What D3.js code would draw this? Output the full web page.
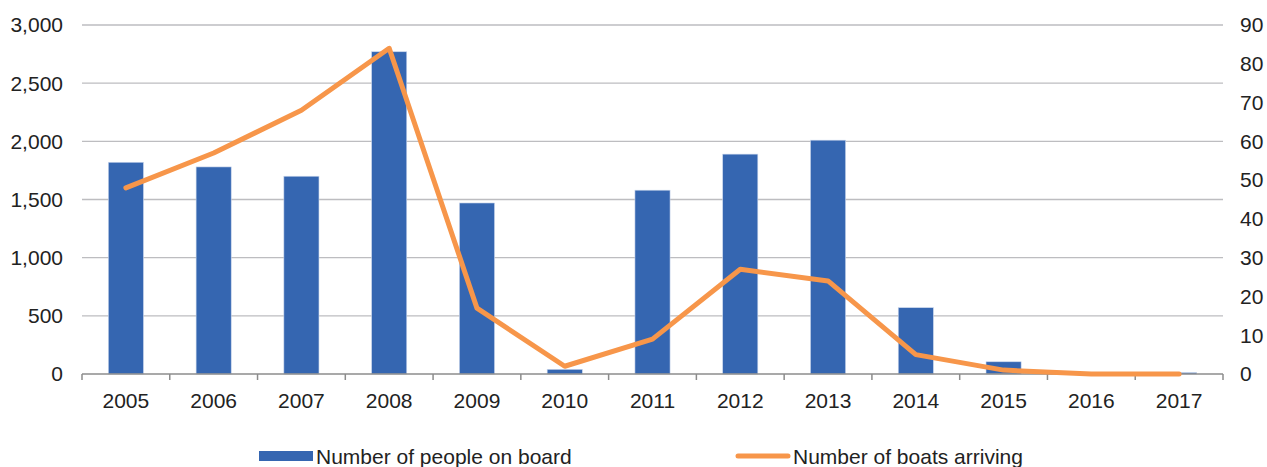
<!DOCTYPE html>
<html>
<head>
<meta charset="utf-8">
<script src="https://cdn.jsdelivr.net/npm/d3@7"></script>
<style>
	body {margin: 0; background: #fff;}
	svg text {font-family: "Liberation Sans", Arial, sans-serif; fill: #222;}
</style>
</head>
<body>
<svg id="chart"></svg>
<script>
/*
	Data
*/
const years = ['2005','2006','2007','2008','2009','2010','2011','2012','2013','2014','2015','2016','2017']
const peopleOnBoard = [1820, 1780, 1700, 2770, 1470, 40, 1580, 1890, 2010, 570, 105, 0, 12]
const boatsArriving = [48, 57, 68, 84, 17, 2, 9, 27, 24, 5, 1, 0, 0]
const leftTicks = [0, 500, 1000, 1500, 2000, 2500, 3000]
const rightTicks = [0, 10, 20, 30, 40, 50, 60, 70, 80, 90]
const legendLabels = ['Number of people on board', 'Number of boats arriving']

/*
	Drawing constants
*/
const [width, height] = [1267, 467]
const plot = {left: 82, right: 1223, top: 25, bottom: 374}
const fontSize = 21
const barColor = '#3566b1'
const lineColor = '#f7964a'

const svg = d3.select('#chart').attr('width', width).attr('height', height)

const x = d3.scaleBand().domain(years).range([plot.left, plot.right]).paddingInner(0.6).paddingOuter(0.3)
const xEdges = d3.scaleBand().domain(years).range([plot.left, plot.right]) //category boundaries for ticks
const yLeft = d3.scaleLinear().domain([0, 3000]).range([plot.bottom, plot.top])
const yRight = d3.scaleLinear().domain([0, 90]).range([plot.bottom, plot.top])

//gridlines
svg.append('g')
	.selectAll('line')
	.data(leftTicks.filter(d => d > 0))
	.join('line')
	.attr('x1', plot.left).attr('x2', plot.right)
	.attr('y1', d => yLeft(d)).attr('y2', d => yLeft(d))
	.attr('stroke', '#bdbdc0').attr('stroke-width', 1.3)

//left axis labels
svg.append('g')
	.selectAll('text')
	.data(leftTicks)
	.join('text')
	.attr('x', 63).attr('y', d => yLeft(d))
	.attr('dy', '0.35em').attr('text-anchor', 'end')
	.attr('font-size', fontSize)
	.text(d3.format(','))

//right axis labels
svg.append('g')
	.selectAll('text')
	.data(rightTicks)
	.join('text')
	.attr('x', 1240).attr('y', d => yRight(d))
	.attr('dy', '0.35em').attr('text-anchor', 'start')
	.attr('font-size', fontSize)
	.text(d => d)

//bars
svg.append('g')
	.selectAll('rect')
	.data(peopleOnBoard)
	.join('rect')
	.attr('x', (d, i) => x(years[i]))
	.attr('width', x.bandwidth())
	.attr('y', d => yLeft(d))
	.attr('height', d => yLeft(0) - yLeft(d))
	.attr('fill', barColor)
	.attr('stroke', '#c9d6ec').attr('stroke-width', 0.6)

//x axis line + ticks between categories
const xAxisG = svg.append('g')
xAxisG.append('line')
	.attr('x1', plot.left).attr('x2', plot.right)
	.attr('y1', plot.bottom).attr('y2', plot.bottom)
	.attr('stroke', '#8c8c8c').attr('stroke-width', 1.5)
xAxisG.selectAll('.tick')
	.data([...years.map(d => xEdges(d)), plot.right])
	.join('line')
	.attr('class', 'tick')
	.attr('x1', d => d).attr('x2', d => d)
	.attr('y1', plot.bottom).attr('y2', plot.bottom + 6)
	.attr('stroke', '#8c8c8c').attr('stroke-width', 1.5)
xAxisG.selectAll('text')
	.data(years)
	.join('text')
	.attr('x', d => xEdges(d) + xEdges.bandwidth() / 2)
	.attr('y', 408)
	.attr('text-anchor', 'middle')
	.attr('font-size', fontSize)
	.text(d => d)

//line series on right axis
const line = d3.line()
	.x((d, i) => x(years[i]) + x.bandwidth() / 2)
	.y(d => yRight(d))
svg.append('path')
	.datum(boatsArriving)
	.attr('d', line)
	.attr('fill', 'none')
	.attr('stroke', lineColor)
	.attr('stroke-width', 5)
	.attr('stroke-linejoin', 'round')
	.attr('stroke-linecap', 'round')

//legend
const legend = svg.append('g')
legend.append('rect')
	.attr('x', 259).attr('y', 451).attr('width', 54).attr('height', 10)
	.attr('fill', barColor)
legend.append('text')
	.attr('x', 316).attr('y', 464).attr('font-size', fontSize)
	.text(legendLabels[0])
legend.append('line')
	.attr('x1', 738).attr('x2', 788).attr('y1', 456).attr('y2', 456)
	.attr('stroke', lineColor).attr('stroke-width', 5).attr('stroke-linecap', 'round')
legend.append('text')
	.attr('x', 793).attr('y', 464).attr('font-size', fontSize)
	.text(legendLabels[1])
</script>
</body>
</html>
